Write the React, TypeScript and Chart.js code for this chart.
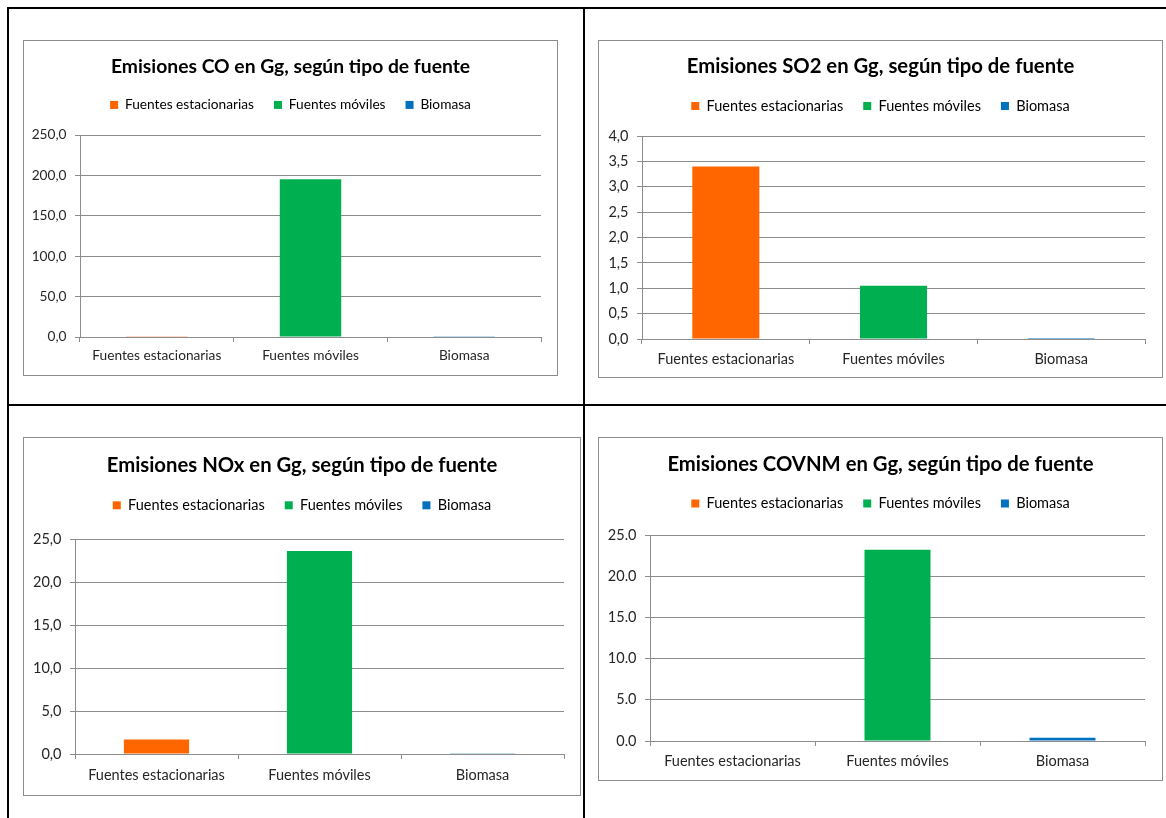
import React, { useEffect, useRef } from 'react';
import { Chart, registerables } from 'chart.js';

Chart.register(...registerables);

// Categorías (fuentes de emisión) y su color
const categorias = ['Fuentes estacionarias', 'Fuentes móviles', 'Biomasa'];
const coloresFuente = ['#FF6600', '#00B050', '#0070C0'];

// Emisiones en Gg por tipo de fuente
const emisionesCO = [0.9, 195.3, 0.8];
const emisionesSO2 = [3.4, 1.05, 0.02];
const emisionesNOx = [1.7, 23.6, 0.08];
const emisionesCOVNM = [0, 23.2, 0.4];

// Marcas del eje vertical
const ticksCO = [0, 50, 100, 150, 200, 250];
const ticksSO2 = [0, 0.5, 1, 1.5, 2, 2.5, 3, 3.5, 4];
const ticksNOx = [0, 5, 10, 15, 20, 25];
const ticksCOVNM = [0, 5, 10, 15, 20, 25];

const GRIS = '#8c8c8c';
const TEXTO = '#262626';
const FUENTE = 'Lato, "Open Sans", sans-serif';

type Diseno = {
  caja: { x: number; y: number; w: number; h: number };
  area: { l: number; t: number; r: number; b: number };
  tituloY: number;
  leyendaY: number;
  etiquetaY: number;
  fTitulo: number;
  fTexto: number;
};

const disenoCO: Diseno = {
  caja: { x: 23, y: 40, w: 535, h: 336 },
  area: { l: 80, t: 135, r: 541, b: 337 },
  tituloY: 66.5, leyendaY: 104, etiquetaY: 356, fTitulo: 19.3, fTexto: 13.7,
};
const disenoSO2: Diseno = {
  caja: { x: 598, y: 40, w: 565, h: 338 },
  area: { l: 642, t: 136, r: 1145, b: 339 },
  tituloY: 66.5, leyendaY: 104.3, etiquetaY: 359, fTitulo: 20.3, fTexto: 14.5,
};
const disenoNOx: Diseno = {
  caja: { x: 23, y: 437, w: 558, h: 359 },
  area: { l: 75, t: 539, r: 564, b: 754 },
  tituloY: 465, leyendaY: 505.3, etiquetaY: 775, fTitulo: 20.3, fTexto: 14.5,
};
const disenoCOVNM: Diseno = {
  caja: { x: 598, y: 437, w: 565, h: 344 },
  area: { l: 650, t: 535, r: 1145, b: 741 },
  tituloY: 464, leyendaY: 502.3, etiquetaY: 761.7, fTitulo: 20.3, fTexto: 14.5,
};

type Props = {
  titulo: string;
  valores: number[];
  marcas: number[];
  separador: string;
  d: Diseno;
};

function GraficoEmisiones({ titulo, valores, marcas, separador, d }: Props) {
  const ref = useRef<HTMLCanvasElement>(null);
  const cx = d.caja.x + 1;
  const cy = d.caja.y + 1;
  const cw = d.caja.w - 2;
  const ch = d.caja.h - 2;

  useEffect(() => {
    if (!ref.current) return;
    const tl = 5;
    const pLey = 20;
    const altoTitulo = d.fTitulo * 1.2;
    const padTituloTop = d.tituloY - cy - altoTitulo / 2;
    const finTitulo = d.tituloY - cy + altoTitulo / 2;
    const topLeyendaDeseado = d.leyendaY - cy - d.fTexto / 2 - pLey;
    const padTituloBottom = Math.max(0, topLeyendaDeseado - finTitulo);
    const topLeyenda = finTitulo + padTituloBottom;
    const extraLeyenda = d.area.t - cy - (topLeyenda + d.fTexto + pLey + 10);
    const altoEtiqueta = d.fTexto * 1.2;
    const padX = d.etiquetaY - d.area.b - tl - altoEtiqueta / 2;
    // el eje de categorías reserva el relleno de las etiquetas dos veces
    const padInferior = Math.max(0, ch - (d.area.b - cy) - (tl + 2 * padX + altoEtiqueta));
    const margenDerecho = cx + cw - d.area.r;

    const espacioLeyenda = {
      id: 'espacioLeyenda',
      beforeInit(chart: any) {
        const leg = chart.legend;
        const fitOriginal = leg.fit;
        leg.fit = function () {
          fitOriginal.call(this);
          this.height += extraLeyenda;
        };
      },
    };

    const chart = new Chart(ref.current, {
      type: 'bar',
      data: {
        labels: categorias,
        datasets: [
          {
            data: valores,
            backgroundColor: coloresFuente,
            borderWidth: 0,
            categoryPercentage: 1,
            barPercentage: 0.4,
          },
        ],
      },
      options: {
        responsive: false,
        animation: false,
        layout: {
          padding: { left: 0, top: 0, right: 0, bottom: padInferior },
        },
        plugins: {
          title: {
            display: true,
            text: titulo,
            color: '#000000',
            font: { family: FUENTE, size: d.fTitulo, weight: 'bold' },
            padding: { top: padTituloTop, bottom: padTituloBottom },
          },
          legend: {
            display: true,
            position: 'top',
            labels: {
              boxWidth: 8,
              boxHeight: 8,
              padding: pLey,
              color: TEXTO,
              font: { family: FUENTE, size: d.fTexto },
              generateLabels: () =>
                categorias.map((c, i) => ({
                  text: c,
                  fillStyle: coloresFuente[i],
                  strokeStyle: coloresFuente[i],
                  lineWidth: 0,
                  hidden: false,
                  index: i,
                })),
            },
          },
          tooltip: { enabled: false },
        },
        scales: {
          x: {
            offset: true,
            grid: {
              display: true,
              drawOnChartArea: false,
              drawTicks: true,
              tickLength: tl,
              color: GRIS,
              offset: true,
            },
            border: { display: true, color: GRIS },
            ticks: {
              color: TEXTO,
              padding: padX,
              maxRotation: 0,
              font: { family: FUENTE, size: d.fTexto },
            },
          },
          y: {
            min: marcas[0],
            max: marcas[marcas.length - 1],
            afterBuildTicks: (s: any) => {
              s.ticks = marcas.map((v) => ({ value: v }));
            },
            afterFit: (s: any) => {
              s.width = d.area.l - cx;
            },
            grid: { color: GRIS, lineWidth: 1, tickLength: tl, drawTicks: true },
            border: { display: true, color: GRIS },
            ticks: {
              color: TEXTO,
              padding: 8.5,
              font: { family: FUENTE, size: d.fTexto },
              callback: (v: any) => Number(v).toFixed(1).replace('.', separador),
            },
          },
          // eje derecho vacío que deja el margen entre el área de trazado y el recuadro
          margen: {
            type: 'linear',
            position: 'right',
            display: true,
            grid: { display: false, drawTicks: false },
            border: { display: false },
            ticks: { display: false },
            afterFit: (s: any) => {
              s.width = margenDerecho;
            },
          },
        },
      },
      plugins: [espacioLeyenda],
    });
    return () => chart.destroy();
  }, []);

  return (
    <>
      <div
        style={{
          position: 'absolute',
          left: d.caja.x,
          top: d.caja.y,
          width: d.caja.w,
          height: d.caja.h,
          boxSizing: 'border-box',
          border: `1px solid ${GRIS}`,
          background: '#fff',
        }}
      />
      <canvas
        ref={ref}
        width={cw}
        height={ch}
        style={{ position: 'absolute', left: cx, top: cy, width: cw, height: ch }}
      />
    </>
  );
}

const linea = (left: number, top: number, width: number, height: number) => (
  <div style={{ position: 'absolute', left, top, width, height, background: '#000' }} />
);

export default function App() {
  return (
    <div
      style={{
        position: 'fixed',
        left: 0,
        top: 0,
        width: 1166,
        height: 818,
        background: '#fff',
        overflow: 'hidden',
      }}
    >
      {linea(7, 7, 1159, 2)}
      {linea(7, 7, 2, 811)}
      {linea(583, 7, 2, 811)}
      {linea(7, 404, 1159, 2)}
      <GraficoEmisiones titulo="Emisiones CO en Gg, según tipo de fuente" valores={emisionesCO} marcas={ticksCO} separador="," d={disenoCO} />
      <GraficoEmisiones titulo="Emisiones SO2 en Gg, según tipo de fuente" valores={emisionesSO2} marcas={ticksSO2} separador="," d={disenoSO2} />
      <GraficoEmisiones titulo="Emisiones NOx en Gg, según tipo de fuente" valores={emisionesNOx} marcas={ticksNOx} separador="," d={disenoNOx} />
      <GraficoEmisiones titulo="Emisiones COVNM en Gg, según tipo de fuente" valores={emisionesCOVNM} marcas={ticksCOVNM} separador="." d={disenoCOVNM} />
    </div>
  );
}
